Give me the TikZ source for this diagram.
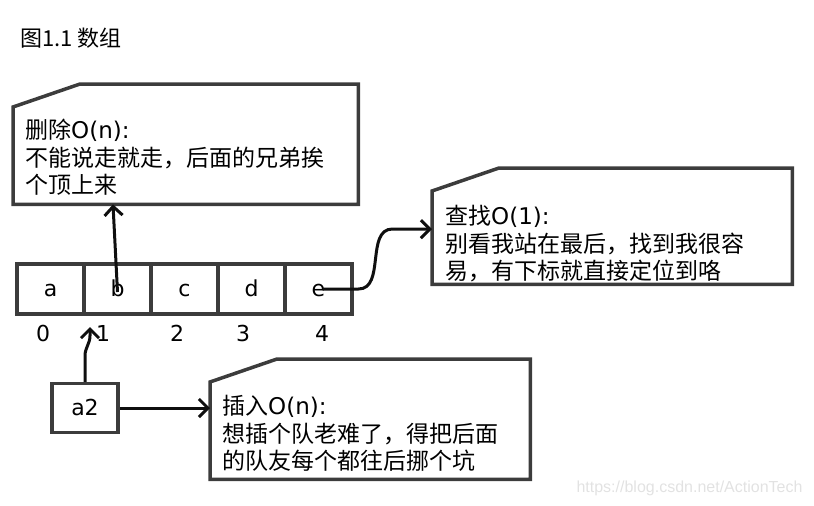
\documentclass[tikz,border=0pt]{standalone}
\usepackage{fontspec}
\setmainfont{DejaVu Sans}
\newfontfamily\cjk{Noto Sans CJK SC}
\newfontfamily\markfont{Liberation Sans}
\usepackage{tikz}
\usetikzlibrary{arrows.meta, positioning}
\definecolor{boxgray}{RGB}{60, 60, 60}
\definecolor{linedark}{RGB}{15, 15, 15}
\definecolor{markgray}{RGB}{226, 226, 226}

\begin{document}
\begin{tikzpicture}[
  x=1pt, y=1pt,
  every node/.style={font=\fontsize{22}{27}\selectfont},
  cell/.style={draw=boxgray, line width=3.5pt, minimum width=67pt, minimum height=50pt, inner sep=0pt, text height=14pt, text depth=0pt},
  note/.style={anchor=north west, inner sep=0pt},
  notetext/.style={anchor=north west, align=left, inner sep=0pt, font=\fontsize{23}{27.5}\selectfont},
  outline/.style={draw=boxgray, line width=3.5pt, line join=miter},
  arrow/.style={-{Straight Barb[length=9pt, width=18pt]}, line width=3pt, color=linedark},
]
  \useasboundingbox (0,0) rectangle (814,-506);

  \node[anchor=west] (title) at (17,-38) {\cjk 图1.1 数组};

  % the array
  \foreach \ch [count=\i from 0] in {a,b,c,d,e}
    \node[cell] (c\i) at (50.5+67*\i,-289) {\ch};
  \foreach \x [count=\i from 0] in {43,103,177,243,322}
    \node (n\i) at (\x,-333) {\i};

  % notes
  \node[note, minimum width=345pt, minimum height=120pt] (del) at (13,-84) {};
  \node[note, minimum width=360pt, minimum height=116pt] (search) at (432,-168) {};
  \node[note, minimum width=320pt, minimum height=120pt] (ins) at (210,-359) {};
  \foreach \n in {del,search,ins}
    \draw[outline] ([yshift=-23pt]\n.north west) -- ([xshift=67pt]\n.north west) -- (\n.north east) -- (\n.south east) -- (\n.south west) -- cycle;

  \node[notetext] (deltext) at ([xshift=12pt, yshift=-35pt]del.north west)
    {{\cjk 删除}O(n):\\{\cjk 不能说走就走，后面的兄弟挨}\\{\cjk 个顶上来}};
  \node[notetext] (searchtext) at ([xshift=13pt, yshift=-37pt]search.north west)
    {{\cjk 查找}O(1):\\{\cjk 别看我站在最后，找到我很容}\\{\cjk 易，有下标就直接定位到咯}};
  \node[notetext] (instext) at ([xshift=12pt, yshift=-36pt]ins.north west)
    {{\cjk 插入}O(n):\\{\cjk 想插个队老难了，得把后面}\\{\cjk 的队友每个都往后挪个坑}};

  \node[cell, minimum width=66pt, minimum height=49pt] (a2) at (85,-408) {a2};
  \coordinate (slot) at (90,-327);

  \draw[arrow] ([yshift=-3pt]c1.center) -- ([xshift=100pt]del.south west);
  \draw[arrow] ([xshift=4pt]c4.center) -- ++(36,0) to[out=0, in=180] ++(34,60) -- ([yshift=-3pt]search.west);
  \draw[arrow] (a2.north) -- ++(0,26) to[out=90, in=-90] ++(5,20) -- (slot);
  \draw[arrow] (a2.east) -- (a2.east -| ins.west);

  \node[text=markgray, font=\markfont\fontsize{16}{16}\selectfont, anchor=east] (mark) at (806,-488) {https://blog.csdn.net/ActionTech};
\end{tikzpicture}
\end{document}
